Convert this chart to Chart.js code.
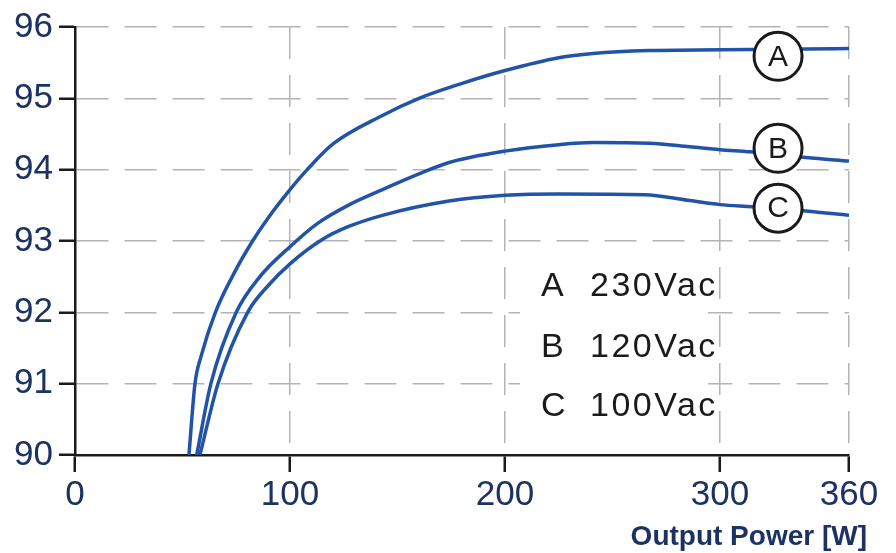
<!DOCTYPE html>
<html>
<head>
<meta charset="utf-8">
<script src="https://cdn.jsdelivr.net/npm/chart.js@4.4.1/dist/chart.umd.min.js"></script>
<style>
html, body { margin: 0; padding: 0; background: #fff; }
#wrap { width: 896px; height: 553px; }
</style>
</head>
<body>
<div id="wrap"><canvas id="myChart"></canvas></div>
<script>
// Curva A - 230Vac
const powerA = [53, 55.8, 58.8, 65.3, 74, 82.6, 90, 100, 108, 120, 143, 160, 179, 200, 225, 241, 267, 300, 340, 360];
const effA   = [90, 91, 91.4, 92, 92.55, 93, 93.33, 93.72, 94, 94.36, 94.76, 95, 95.2, 95.39, 95.57, 95.63, 95.67, 95.68, 95.69, 95.70];
// Curva B - 120Vac
const powerB = [56.6, 63.2, 75, 86, 100, 113, 127, 143, 160, 174, 200, 225, 241, 267, 286, 300, 314, 340, 360];
const effB   = [90, 91, 92, 92.5, 92.92, 93.25, 93.5, 93.72, 93.94, 94.1, 94.26, 94.35, 94.38, 94.37, 94.32, 94.28, 94.25, 94.17, 94.12];
// Curva C - 100Vac
const powerC = [58.1, 66.5, 80.3, 90, 100, 115, 127, 143, 174, 200, 225, 265, 285, 300, 315, 340, 360];
const effC   = [90, 91, 92, 92.38, 92.68, 93.02, 93.2, 93.36, 93.56, 93.64, 93.66, 93.65, 93.57, 93.51, 93.48, 93.42, 93.36];

const xTicks = [0, 100, 200, 300, 360];
const yTicks = [90, 91, 92, 93, 94, 95, 96];

const curveNames = ['A', 'B', 'C'];
const labelPower = 327;
const labelEff = [95.59, 94.30, 93.46];
const legendTexts = ['230Vac', '120Vac', '100Vac'];

const lineColor = '#2153a8';
const navy = '#1b3263';
const font = '"Liberation Sans", Arial, sans-serif';

function toPoints(xs, ys) {
    return xs.map((x, i) => ({ x: x, y: ys[i] }));
}

function makeSet(xs, ys) {
    return {
        data: toPoints(xs, ys),
        borderColor: lineColor,
        borderWidth: 3.5,
        pointRadius: 0,
        fill: false,
        cubicInterpolationMode: 'monotone'
    };
}

// Caixa da legenda, círculos e título do eixo
const annotations = {
    id: 'annotations',
    beforeDatasetsDraw(chart) {
        const ctx = chart.ctx;
        ctx.save();
        ctx.fillStyle = '#fff';
        ctx.fillRect(520, 255, 188, 185);
        ctx.restore();
    },
    afterDatasetsDraw(chart) {
        const { ctx, scales } = chart;
        ctx.save();
        // círculos A, B, C
        curveNames.forEach((name, i) => {
            const cx = scales.x.getPixelForValue(labelPower);
            const cy = scales.y.getPixelForValue(labelEff[i]);
            ctx.beginPath();
            ctx.arc(cx, cy, 24, 0, Math.PI * 2);
            ctx.fillStyle = '#fff';
            ctx.fill();
            ctx.lineWidth = 3;
            ctx.strokeStyle = '#1a1a1a';
            ctx.stroke();
            ctx.fillStyle = '#1a1a1a';
            ctx.font = '30px ' + font;
            ctx.textAlign = 'center';
            ctx.textBaseline = 'middle';
            ctx.fillText(name, cx, cy + 1);
        });
        // legenda
        ctx.font = '34px ' + font;
        ctx.textAlign = 'left';
        ctx.textBaseline = 'alphabetic';
        ctx.fillStyle = '#1a1a1a';
        const baselines = [296, 357, 416];
        curveNames.forEach((name, i) => {
            ctx.letterSpacing = '0px';
            ctx.fillText(name, 541, baselines[i]);
            ctx.letterSpacing = '2.5px';
            ctx.fillText(legendTexts[i], 590, baselines[i]);
        });
        ctx.restore();
    },
    afterDraw(chart) {
        const ctx = chart.ctx;
        ctx.save();
        ctx.font = 'bold 28px ' + font;
        ctx.fillStyle = navy;
        ctx.textAlign = 'right';
        ctx.textBaseline = 'alphabetic';
        ctx.fillText('Output Power [W]', chart.chartArea.right + 18, 545);
        ctx.restore();
    }
};

const ctx = document.getElementById('myChart').getContext('2d');
const myChart = new Chart(ctx, {
    type: 'line',
    data: {
        datasets: [
            makeSet(powerA, effA),
            makeSet(powerB, effB),
            makeSet(powerC, effC)
        ]
    },
    options: {
        responsive: true,
        maintainAspectRatio: false,
        animation: false,
        layout: { padding: { top: 22, right: 47, left: 0, bottom: 0 } },
        plugins: {
            legend: { display: false },
            tooltip: { enabled: false }
        },
        scales: {
            x: {
                type: 'linear',
                min: 0,
                max: 360,
                afterBuildTicks: scale => { scale.ticks = xTicks.map(v => ({ value: v })); },
                afterFit: scale => { scale.height = 98; },
                grid: {
                    color: '#b4b4b4',
                    lineWidth: 1.5,
                    drawTicks: true,
                    tickLength: 17,
                    tickColor: '#1a1a1a',
                    tickWidth: 2.5,
                    tickBorderDash: []
                },
                border: { display: true, color: '#1a1a1a', width: 2.5, dash: [32, 16] },
                ticks: {
                    color: navy,
                    font: { family: font, size: 35 },
                    padding: 2,
                    maxRotation: 0,
                    autoSkip: false
                }
            },
            y: {
                min: 90,
                max: 96,
                afterBuildTicks: scale => { scale.ticks = yTicks.map(v => ({ value: v })); },
                afterFit: scale => { scale.width = 75; },
                grid: {
                    color: '#b4b4b4',
                    lineWidth: 1.5,
                    drawTicks: true,
                    tickLength: 16,
                    tickColor: '#1a1a1a',
                    tickWidth: 2.5,
                    tickBorderDash: []
                },
                border: { display: true, color: '#1a1a1a', width: 2.5, dash: [32, 16] },
                ticks: {
                    color: navy,
                    font: { family: font, size: 35 },
                    padding: 6
                }
            }
        }
    },
    plugins: [annotations]
});
</script>
</body>
</html>
